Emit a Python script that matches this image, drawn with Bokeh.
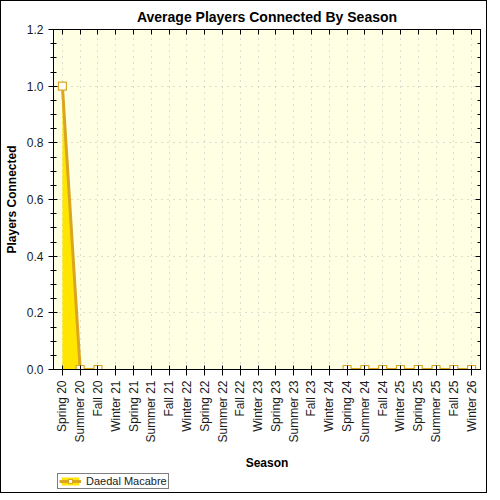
from math import pi

from bokeh.plotting import figure
from bokeh.layouts import column
from bokeh.models import (ColumnDataSource, CategoricalAxis, LinearAxis, Legend,
                          LegendItem, FixedTicker, NumeralTickFormatter, Range1d,
                          CustomJSTickFormatter)
from bokeh.embed import file_html
from bokeh.resources import INLINE

seasons = ["Spring 20", "Summer 20", "Fall 20", "Winter 21", "Spring 21", "Summer 21",
           "Fall 21", "Winter 22", "Spring 22", "Summer 22", "Fall 22", "Winter 23",
           "Spring 23", "Summer 23", "Fall 23", "Winter 24", "Spring 24", "Summer 24",
           "Fall 24", "Winter 25", "Spring 25", "Summer 25", "Fall 25", "Winter 26"]

# None = no data for that season
players = [1.0, 0.0, 0.0, None, None, None, None, None, None, None, None, None,
           None, None, None, None, 0.0, 0.0, 0.0, 0.0, 0.0, 0.0, 0.0, 0.0]

series_name = "Daedal Macabre"

y_ticks = [0.0, 0.2, 0.4, 0.6, 0.8, 1.0, 1.2]
y_minor = [i * 0.05 for i in range(25)]

FONT = "Liberation Sans"
LINE = "#DAA520"
FILL = "#FFE500"

p = figure(
    x_range=seasons,
    y_range=Range1d(0, 1.2),
    frame_width=427,
    frame_height=340,
    title="Average Players Connected By Season",
    toolbar_location=None,
    output_backend="svg",
    background_fill_color="#FFFFE4",
    border_fill_color="white",
    min_border_left=12,
    min_border_right=6,
    min_border_top=4,
    min_border_bottom=104,
)

p.title.align = "center"
p.title.text_font = FONT
p.title.text_font_size = "14px"
p.title.text_font_style = "bold"
p.title.text_color = "black"

p.outline_line_color = "black"
p.outline_line_alpha = 1

# area segments between gaps
segments = []
cur = []
for s, v in zip(seasons, players):
    if v is None:
        if cur:
            segments.append(cur)
        cur = []
    else:
        cur.append((s, v))
if cur:
    segments.append(cur)

for seg in segments:
    src = ColumnDataSource(dict(x=[s for s, _ in seg], y=[v for _, v in seg]))
    p.varea(x="x", y1=0, y2="y", source=src, fill_color=FILL)

line_src = ColumnDataSource(dict(
    x=seasons, y=[float("nan") if v is None else v for v in players]))
p.line(x="x", y="y", source=line_src, line_color=LINE, line_width=3)

pt_src = ColumnDataSource(dict(
    x=[s for s, v in zip(seasons, players) if v is not None],
    y=[v for v in players if v is not None]))
p.scatter(x="x", y="y", source=pt_src, marker="square", size=8,
          fill_color="white", line_color=LINE, line_width=1.2)

# grids
p.xgrid.grid_line_color = "#BDBDBD"
p.xgrid.grid_line_dash = "1 5"
p.ygrid.grid_line_color = "#BDBDBD"
p.ygrid.grid_line_dash = "1 5"

# left axis
ya = p.yaxis[0]
ya.ticker = FixedTicker(ticks=y_ticks, minor_ticks=y_minor)
ya.formatter = NumeralTickFormatter(format="0.0")
ya.axis_label = "Players Connected"
ya.axis_label_text_font = FONT
ya.axis_label_text_font_size = "12px"
ya.axis_label_text_font_style = "bold"
ya.axis_label_text_color = "black"
ya.major_label_text_font = FONT
ya.major_label_text_font_size = "12px"
ya.major_label_text_color = "#1a1a1a"
ya.major_tick_out = 5
ya.major_tick_in = 4
ya.minor_tick_out = 3
ya.minor_tick_in = 3
ya.axis_line_color = "black"
ya.major_tick_line_color = "black"
ya.minor_tick_line_color = "black"

# bottom axis
xa = p.xaxis[0]
xa.major_label_orientation = pi / 2
xa.axis_label = "Season"
xa.axis_label_standoff = 10
xa.axis_label_text_font = FONT
xa.axis_label_text_font_size = "12px"
xa.axis_label_text_font_style = "bold"
xa.axis_label_text_color = "black"
xa.major_label_text_font = FONT
xa.major_label_text_font_size = "12px"
xa.major_label_text_color = "#1a1a1a"
xa.major_label_standoff = 5
xa.major_tick_out = 6
xa.major_tick_in = 4
xa.axis_line_color = "black"
xa.major_tick_line_color = "black"

# mirrored axes on top and right, ticks inside, no labels
blank = CustomJSTickFormatter(code="return ''")
top = CategoricalAxis(formatter=CustomJSTickFormatter(code="return ''"),
                      major_tick_in=5, major_tick_out=0, major_label_standoff=0,
                      axis_line_color="black", major_tick_line_color="black")
p.add_layout(top, "above")
right = LinearAxis(ticker=FixedTicker(ticks=y_ticks, minor_ticks=y_minor),
                   formatter=blank, major_label_standoff=0,
                   major_tick_in=5, major_tick_out=0,
                   minor_tick_in=3, minor_tick_out=0, axis_line_color="black",
                   major_tick_line_color="black", minor_tick_line_color="black")
p.add_layout(right, "right")

# legend strip under the chart (a side-panel legend grabs too much height)
leg = figure(width=482, height=19, toolbar_location=None, output_backend="svg",
             x_range=Range1d(0, 1), y_range=Range1d(0, 1),
             min_border=0, border_fill_color="white", background_fill_color="white")
leg.axis.visible = False
leg.grid.visible = False
leg.outline_line_color = None
# stand-in renderers kept outside the visible range, only their legend swatch shows
off = ColumnDataSource(dict(x=[5, 6], y=[5, 5]))
r_area = leg.varea(x="x", y1="y", y2="y", source=off, fill_color=FILL)
r_line = leg.line(x="x", y="y", source=off, line_color=LINE, line_width=3)
r_pt = leg.scatter(x="x", y="y", source=off, marker="square", size=8,
                   fill_color="white", line_color=LINE, line_width=1.2)

legend = Legend(
    items=[LegendItem(label=series_name, renderers=[r_area, r_line, r_pt])],
    location=(4, 3),
    orientation="horizontal",
    border_line_color="black",
    border_line_width=1,
    background_fill_color="white",
    label_text_font=FONT,
    label_text_font_size="11px",
    label_text_color="#1a1a1a",
    glyph_width=22,
    glyph_height=10,
    label_height=10,
    padding=1,
    spacing=0,
    margin=0,
)
leg.add_layout(legend)

layout = column(p, leg, spacing=0)
layout.styles = {"border": "1px solid black", "background-color": "white"}

open("out.html", "w").write(file_html(layout, INLINE))
